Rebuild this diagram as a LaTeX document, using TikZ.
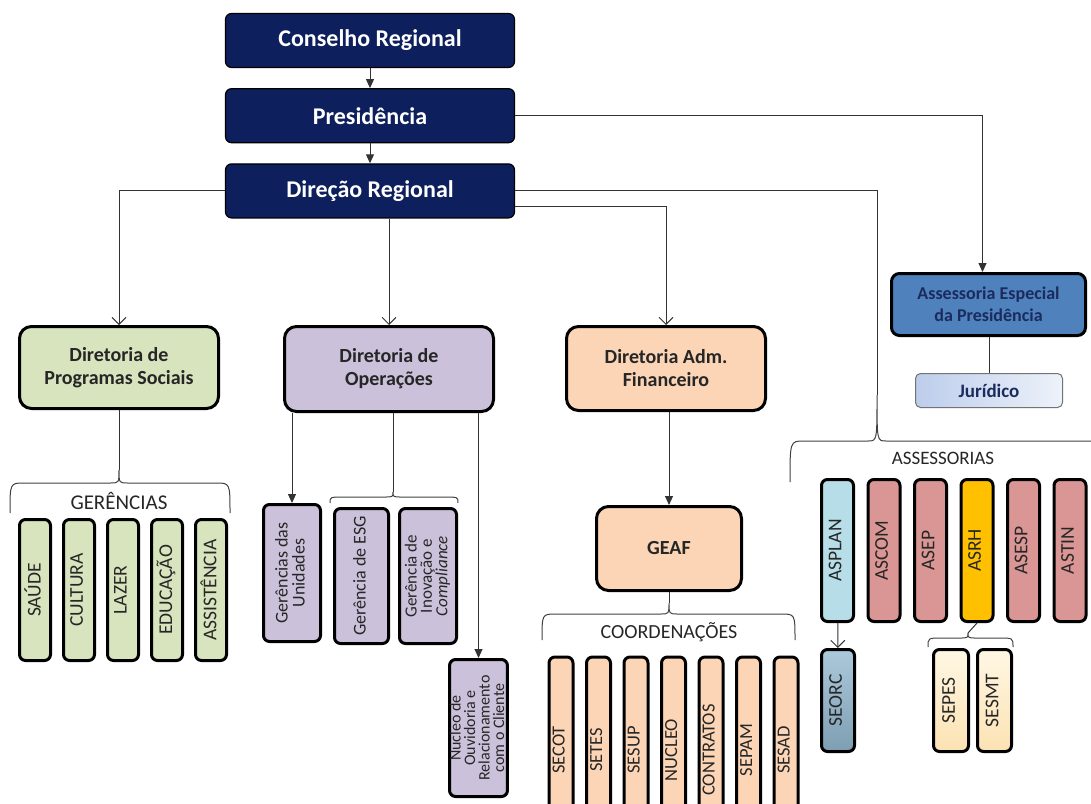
\documentclass[tikz,border=0pt]{standalone}
\usepackage{fontspec}
\setmainfont{Carlito}
\usepackage{graphicx}
\usetikzlibrary{arrows.meta, positioning}

\definecolor{marinho}{HTML}{0E1F5E}
\definecolor{verde}{HTML}{D7E4BD}
\definecolor{lilas}{HTML}{CCC1DA}
\definecolor{pessego}{HTML}{FBD5B5}
\definecolor{azulesp}{HTML}{4F81BD}
\definecolor{textoesp}{HTML}{1B2B5E}
\definecolor{jurA}{HTML}{BCCDEB}
\definecolor{jurB}{HTML}{EEF2FA}
\definecolor{azulclaro}{HTML}{B7DEE8}
\definecolor{rosa}{HTML}{D99694}
\definecolor{ouro}{HTML}{FFC000}
\definecolor{seorcA}{HTML}{ABC9DB}
\definecolor{seorcB}{HTML}{7E9EB2}
\definecolor{cremeA}{HTML}{FFF7E4}
\definecolor{cremeB}{HTML}{FCE2B3}
\definecolor{escuro}{HTML}{262626}

% texto vertical (de baixo para cima)
\newcommand{\vtxt}[1]{\rotatebox{90}{\renewcommand{\arraystretch}{0.8}\begin{tabular}{@{}c@{}}#1\end{tabular}}}
% chave: x esq, x dir, x ponta, y ponta, y meio, y pontas
\newcommand{\chaveta}[6]{%
  \draw[chave] (#1,#6) .. controls (#1,#5) .. (#1+14,#5) -- (#3-9,#5) .. controls (#3,#5) .. (#3,#4)
    .. controls (#3,#5) .. (#3+9,#5) -- (#2-14,#5) .. controls (#2,#5) .. (#2,#6);}

\tikzset{
  topo/.style={draw=black, line width=1.2pt, fill=marinho, rounded corners=6pt, text=white,
    font=\fontsize{24}{27}\selectfont\bfseries, minimum width=289pt, minimum height=54pt},
  diretoria/.style={draw, line width=3pt, rounded corners=12pt, align=center, text=escuro,
    font=\fontsize{20}{23}\selectfont\bfseries},
  caixa/.style={draw, line width=3pt, rounded corners=6pt, inner sep=0pt, text=escuro,
    font=\fontsize{19.5}{21}\selectfont},
  liga/.style={line width=1pt, draw=black!80},
  seta/.style={liga, -{Triangle[length=9pt,width=8pt]}},
  setav/.style={liga, -{Straight Barb[length=7pt,width=14pt]}},
  chave/.style={line width=1pt, draw=black!75},
  rotulo/.style={text=escuro, font=\fontsize{20}{22}\selectfont}
}

\begin{document}
\begin{tikzpicture}[x=1pt, y=-1pt]
\useasboundingbox (0,0) rectangle (1091,803);

% Topo
\node[topo] (conselho) at (370,40.5) {Conselho Regional};
\node[topo, below=20pt of conselho] (presid) {Presidência};
\node[topo, below=20pt of presid] (direcao) {Direção Regional};

% Diretorias
\node[diretoria, fill=verde,
    minimum width=199pt,
    minimum height=82pt] (progsoc) at (119,367.5) {Diretoria de\\Programas Sociais};

\node[diretoria, fill=lilas,
    minimum width=209pt,
    minimum height=85pt] (operacoes) at (389,369) {Diretoria de\\Operações};

\node[diretoria, fill=pessego,
    minimum width=199pt,
    minimum height=84pt] (admfin) at (666,368.5) {Diretoria Adm.\\Financeiro};

\node[diretoria, fill=pessego,
    minimum width=145pt,
    minimum height=84pt] (geaf) at (669,548.5) {GEAF};

\node[diretoria, fill=azulesp, rounded corners=8pt, text=textoesp,
    font=\fontsize{18}{22}\selectfont\bfseries,
    minimum width=194pt,
    minimum height=62pt] (especial) at (988.5,304.5) {Assessoria Especial\\da Presidência};

\node[draw=black!55, line width=1pt, rounded corners=5pt, left color=jurA, right color=jurB,
    text=textoesp, font=\fontsize{19}{21}\selectfont\bfseries,
    minimum width=147pt,
    minimum height=34pt] (juridico) at (989,390.5) {Jurídico};

% Gerências
\chaveta{10}{230}{119}{470}{483}{513}
\coordinate (gerTip) at (119,470);
\node[rotulo, font=\fontsize{21}{23}\selectfont] (gerencias) at (119,501) {GERÊNCIAS};
\node[caixa, fill=verde, minimum width=31pt, minimum height=141pt] (saude) at (35,590) {\vtxt{SAÚDE}};
\node[caixa, fill=verde, minimum width=31pt, minimum height=141pt, right=10pt of saude] (cultura) {\vtxt{CULTURA}};
\node[caixa, fill=verde, minimum width=31pt, minimum height=141pt, right=10pt of cultura] (lazer) {\vtxt{LAZER}};
\node[caixa, fill=verde, minimum width=31pt, minimum height=141pt, right=10pt of lazer] (educacao) {\vtxt{EDUCAÇÃO}};
\node[caixa, fill=verde, minimum width=31pt, minimum height=141pt, right=10pt of educacao] (assist) {\vtxt{ASSISTÊNCIA}};

% Operações
\chaveta{330}{458}{393}{492}{497}{503}
\coordinate (opTip) at (393,492);
\node[caixa, fill=lilas, font=\fontsize{18}{18}\selectfont,
    minimum width=57pt, minimum height=137pt] (unidades) at (292,573) {\vtxt{Gerências das\\Unidades}};
\node[caixa, fill=lilas, font=\fontsize{18}{18}\selectfont,
    minimum width=54pt, minimum height=135pt] (esg) at (361.5,576) {\vtxt{Gerência de ESG}};
\node[caixa, fill=lilas, font=\fontsize{17}{16}\selectfont,
    minimum width=57pt, minimum height=135pt] (inovacao) at (428,576) {\vtxt{Gerência de\\Inovação e\\\textit{Compliance}}};
\node[caixa, fill=lilas, font=\fontsize{16}{14}\selectfont,
    minimum width=54pt, minimum height=137pt] (nucleo) at (478.5,728) {\vtxt{Nucleo de\\Ouvidoria e\\Relacionamento\\com o Cliente}};

% Coordenações
\chaveta{542}{795}{669}{603}{614}{640}
\coordinate (coordTip) at (669,603);
\node[rotulo] (coordenacoes) at (669,632) {COORDENAÇÕES};
\node[caixa, fill=pessego, font=\fontsize{18.5}{20}\selectfont, minimum width=24pt, minimum height=186pt] (secot) at (561,750) {\vtxt{SECOT}};
\node[caixa, fill=pessego, font=\fontsize{18.5}{20}\selectfont, minimum width=24pt, minimum height=186pt, right=10.5pt of secot] (setes) {\vtxt{SETES}};
\node[caixa, fill=pessego, font=\fontsize{18.5}{20}\selectfont, minimum width=24pt, minimum height=186pt, right=10.5pt of setes] (sesup) {\vtxt{SESUP}};
\node[caixa, fill=pessego, font=\fontsize{18.5}{20}\selectfont, minimum width=24pt, minimum height=186pt, right=10.5pt of sesup] (nucleocoord) {\vtxt{NUCLEO}};
\node[caixa, fill=pessego, font=\fontsize{18.5}{20}\selectfont, minimum width=24pt, minimum height=186pt, right=10.5pt of nucleocoord] (contratos) {\vtxt{CONTRATOS}};
\node[caixa, fill=pessego, font=\fontsize{18.5}{20}\selectfont, minimum width=24pt, minimum height=186pt, right=10.5pt of contratos] (sepam) {\vtxt{SEPAM}};
\node[caixa, fill=pessego, font=\fontsize{18.5}{20}\selectfont, minimum width=24pt, minimum height=186pt, right=10.5pt of sepam] (sesad) {\vtxt{SESAD}};

% Assessorias
\chaveta{790}{1100}{877}{395}{441}{482}
\coordinate (assTip) at (877,395);
\node[rotulo, font=\fontsize{19}{21}\selectfont] (assessorias) at (943,458) {ASSESSORIAS};
\node[caixa, fill=azulclaro, minimum width=32pt, minimum height=142pt] (asplan) at (837.5,550.5) {\vtxt{ASPLAN}};
\node[caixa, fill=rosa, minimum width=32pt, minimum height=142pt, right=11.5pt of asplan] (ascom) {\vtxt{ASCOM}};
\node[caixa, fill=rosa, minimum width=32pt, minimum height=142pt, right=11.5pt of ascom] (asep) {\vtxt{ASEP}};
\node[caixa, fill=ouro, minimum width=32pt, minimum height=142pt, right=11.5pt of asep] (asrh) {\vtxt{ASRH}};
\node[caixa, fill=rosa, minimum width=32pt, minimum height=142pt, right=11.5pt of asrh] (asesp) {\vtxt{ASESP}};
\node[caixa, fill=rosa, minimum width=32pt, minimum height=142pt, right=11.5pt of asesp] (astin) {\vtxt{ASTIN}};

\node[caixa, top color=seorcA, bottom color=seorcB,
    minimum width=33pt, minimum height=102pt] (seorc) at (838,700.5) {\vtxt{SEORC}};

\chaveta{928}{1013}{968}{633}{638}{647}
\coordinate (rhTip) at (968,633);
\node[caixa, top color=cremeA, bottom color=cremeB,
    minimum width=35pt, minimum height=102pt] (sepes) at (951,700.5) {\vtxt{SEPES}};
\node[caixa, top color=cremeA, bottom color=cremeB,
    minimum width=34pt, minimum height=102pt, right=6pt of sepes] (sesmt) {\vtxt{SESMT}};

% Ligações
\draw[seta] (conselho) -- (presid);
\draw[seta] (presid) -- (direcao);
\draw[seta] (presid.east) -| ([xshift=-6pt]especial.north);
\draw[liga] (especial.south -| juridico.north) -- (juridico.north);

\draw[setav] (direcao.west) -| (progsoc.north);
\draw[setav] (direcao.south -| operacoes.north) -- (operacoes.north);
\draw[setav] ([yshift=-15.5pt]direcao.east) -| (admfin.north);
\draw[liga] (direcao.east) -| (assTip);

\draw[liga] (progsoc.south) -- (gerTip);
\draw[seta] (operacoes.south -| unidades.north) -- (unidades.north);
\draw[liga] (operacoes.south -| opTip) -- (opTip);
\draw[seta] (operacoes.south -| nucleo.north) -- (nucleo.north);
\draw[seta] (admfin.south -| geaf.north) -- (geaf.north);
\draw[liga] (geaf.south) -- (coordTip);
\draw[setav] (asplan) -- (seorc);
\draw[liga] (asrh.south) -- (rhTip);

\end{tikzpicture}
\end{document}
